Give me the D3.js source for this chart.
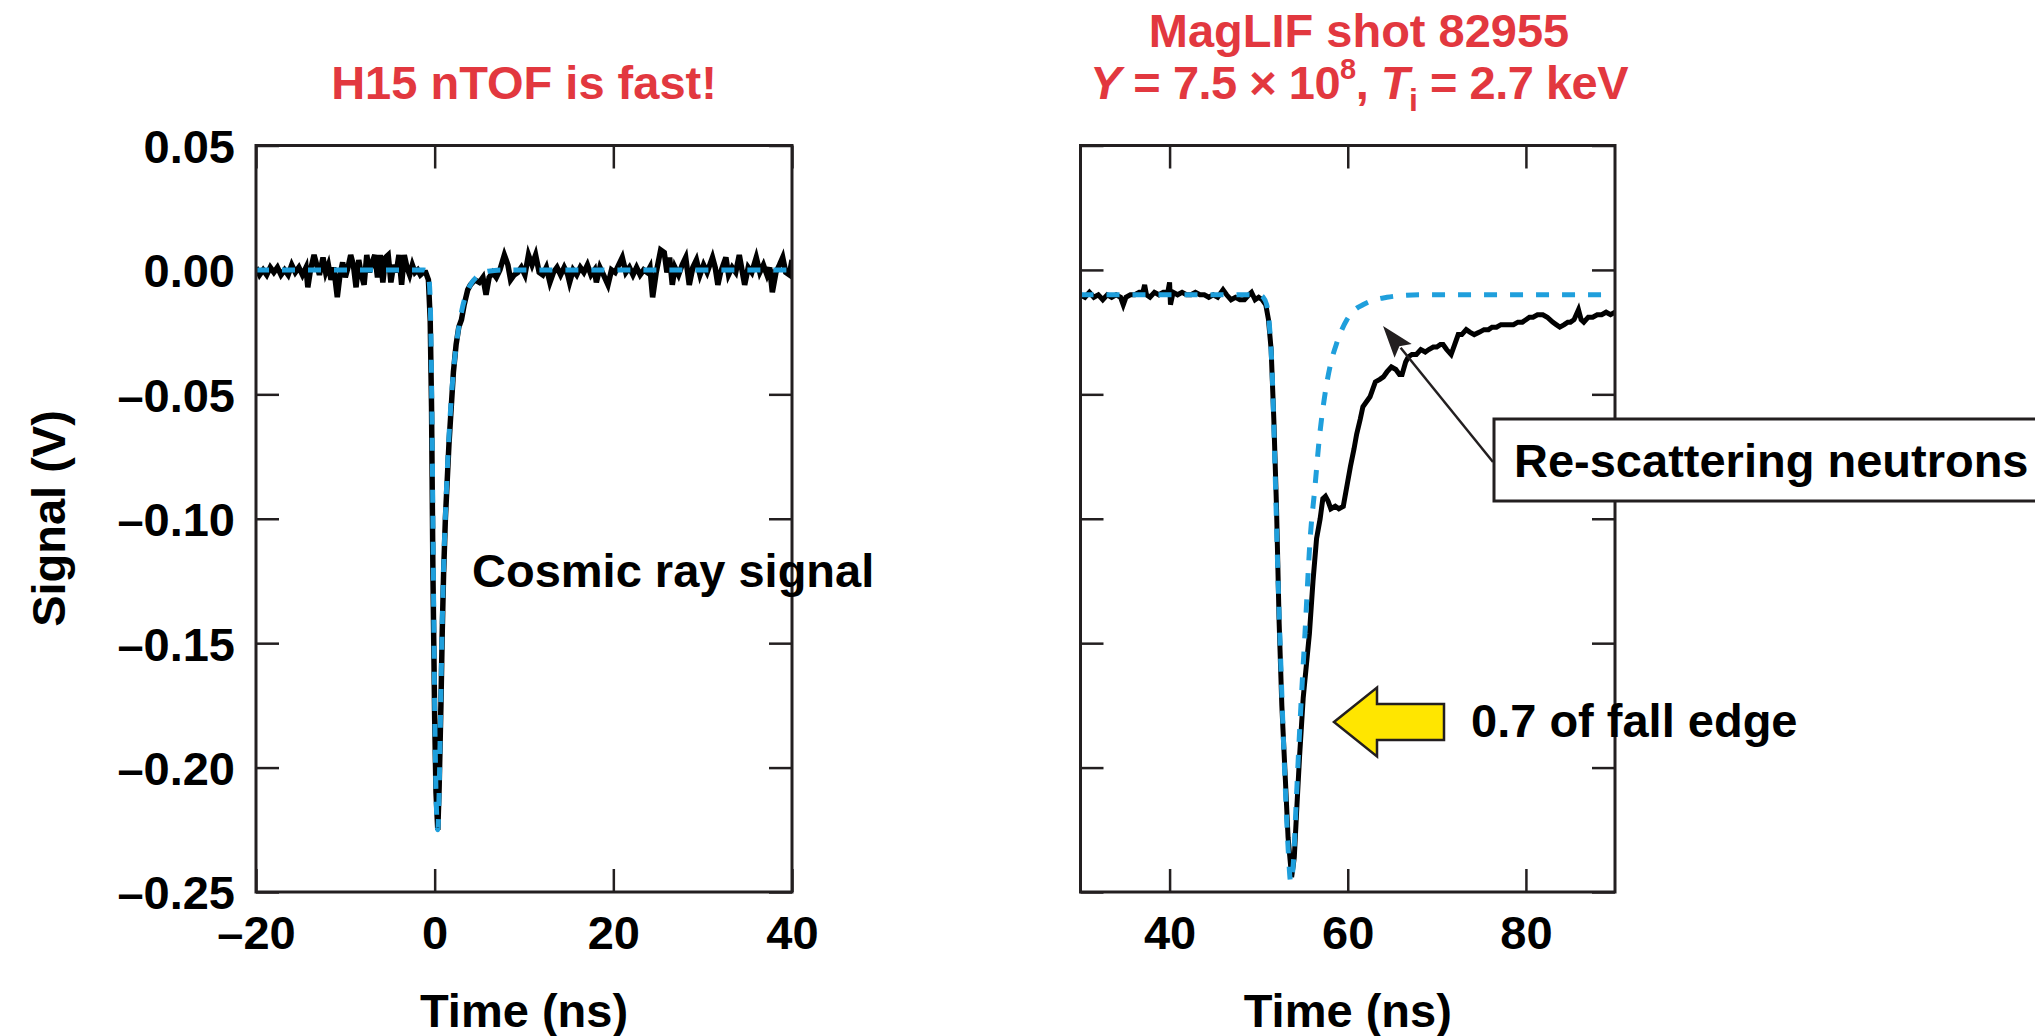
<!DOCTYPE html>
<html><head><meta charset="utf-8">
<script src="https://cdn.jsdelivr.net/npm/d3@7"></script>
<style>
html,body{margin:0;padding:0;background:#fff;}
svg{display:block;}
text{font-family:"Liberation Sans",Arial,Helvetica,sans-serif;font-weight:bold;}
</style></head><body>
<svg id="chart" width="2035" height="1036"></svg>
<script>
// ---------------- data ----------------
const yTicks = [0.05, 0, -0.05, -0.10, -0.15, -0.20, -0.25];
const leftXTicks = [-20, 0, 20, 40];
const rightXTicks = [40, 60, 80];
const leftDomain = [-20, 40];
const rightDomain = [30, 90];
const yDomain = [-0.25, 0.05];

// Left: cosmic-ray signal (time ns, signal V)
const leftSignal = [
[-20.0,0.001],[-19.6,-0.002],[-19.2,0.000],[-18.8,-0.002],[-18.4,0.001],[-18.0,-0.001],[-17.6,0.001],[-17.2,-0.002],
[-16.8,0.000],[-16.4,-0.002],[-16.0,0.002],[-15.6,-0.001],[-15.2,0.001],[-14.8,-0.002],[-14.4,0.001],[-14.2,-0.007],
[-13.9,0.000],[-13.5,0.006],[-13.2,0.002],[-12.9,-0.002],[-12.5,0.005],[-12.2,-0.001],[-11.9,0.002],[-11.6,-0.004],
[-11.3,0.001],[-10.9,-0.011],[-10.6,-0.002],[-10.3,0.003],[-10.0,-0.003],[-9.7,0.001],[-9.4,0.006],[-9.1,0.002],
[-8.8,-0.007],[-8.5,0.004],[-8.2,-0.002],[-7.9,-0.006],[-7.6,0.006],[-7.3,-0.001],[-7.0,0.003],[-6.7,0.006],
[-6.4,-0.003],[-6.1,0.006],[-5.8,-0.005],[-5.5,0.005],[-5.2,0.006],[-4.9,-0.005],[-4.6,0.002],[-4.3,-0.001],
[-4.0,0.006],[-3.7,-0.006],[-3.4,0.006],[-3.1,0.001],[-2.8,-0.002],[-2.5,0.002],[-2.2,-0.001],[-1.9,0.000],
[-1.6,-0.002],[-1.3,-0.001],[-1.0,-0.001],[-0.7,-0.004],
[-0.5,-0.020],[-0.35,-0.055],[-0.2,-0.120],[0.0,-0.180],[0.15,-0.210],[0.35,-0.225],[0.5,-0.208],[0.7,-0.175],
[0.85,-0.145],[1.0,-0.122],[1.2,-0.100],[1.6,-0.070],[2.1,-0.041],[2.4,-0.030],[2.7,-0.023],[3.0,-0.020],
[3.3,-0.014],[3.7,-0.008],[4.0,-0.006],[4.5,-0.004],[5.0,-0.005],[5.4,-0.003],[5.75,-0.010],[6.1,-0.003],
[6.5,-0.001],[6.9,-0.003],[7.3,0.000],[7.8,0.006],[8.2,0.002],[8.5,-0.004],[8.9,-0.002],[9.3,-0.001],
[9.7,0.001],[10.1,-0.002],[10.5,0.006],[10.9,0.002],[11.3,0.006],[11.7,-0.001],[12.1,-0.002],[12.5,0.001],
[12.9,-0.005],[13.3,-0.001],[13.7,0.001],[14.1,-0.002],[14.5,0.001],[14.9,-0.002],[15.1,-0.005],[15.5,0.000],
[15.9,-0.002],[16.3,0.001],[16.7,-0.001],[17.1,0.002],[17.5,-0.002],[17.9,0.000],[18.1,-0.005],[18.5,0.001],
[18.9,-0.002],[19.4,-0.006],[19.8,0.000],[20.2,-0.001],[20.6,0.002],[21.0,0.005],[21.4,-0.001],[21.8,0.001],
[22.2,-0.002],[22.6,0.001],[23.0,-0.002],[23.4,0.000],[23.8,-0.001],[24.1,0.001],[24.4,-0.011],[24.8,-0.001],
[25.3,0.008],[25.7,0.007],[26.0,-0.001],[26.3,0.005],[26.6,-0.006],[26.9,0.001],[27.3,-0.002],[27.7,0.002],
[28.1,0.005],[28.5,-0.006],[28.9,0.001],[29.3,0.004],[29.7,-0.002],[30.1,0.002],[30.5,-0.001],[30.8,0.002],
[31.1,0.005],[31.4,0.001],[31.7,-0.006],[32.0,-0.001],[32.3,0.002],[32.6,0.005],[32.9,-0.002],[33.3,0.001],
[33.7,-0.001],[34.1,0.006],[34.4,0.000],[34.7,-0.006],[35.1,0.001],[35.5,-0.001],[36.0,0.005],[36.4,-0.001],
[36.8,0.002],[37.2,-0.002],[37.5,0.001],[37.8,-0.009],[38.2,-0.001],[38.6,0.002],[38.96,0.005],[39.3,-0.001],
[39.7,-0.002],[40.0,0.004]
];
// Left: fit (blue dashed)
const leftFit = [
[-20,0],[-1.2,0],[-0.8,-0.001],[-0.6,-0.005],[-0.45,-0.02],[-0.3,-0.06],[-0.15,-0.12],[0.0,-0.175],
[0.15,-0.21],[0.35,-0.225],[0.5,-0.21],[0.65,-0.18],[0.8,-0.15],[1.0,-0.12],[1.3,-0.09],[1.6,-0.067],
[2.0,-0.045],[2.5,-0.028],[3.0,-0.017],[3.5,-0.010],[4.0,-0.006],[5.0,-0.002],[6.0,-0.0005],[8.0,0],[40,0]
];
// Right: MagLIF shot signal
const rightSignal = [
[30.0,-0.010],[30.5,-0.011],[31.0,-0.009],[31.5,-0.011],[32.0,-0.010],[32.5,-0.012],[33.0,-0.010],[33.5,-0.011],
[34.0,-0.010],[34.5,-0.011],[34.8,-0.014],[35.1,-0.011],[35.6,-0.010],[36.1,-0.010],[36.6,-0.009],[37.0,-0.009],
[37.2,-0.006],[37.4,-0.010],[37.8,-0.011],[38.3,-0.009],[38.8,-0.010],[39.3,-0.009],[39.8,-0.009],[40.0,-0.005],
[40.1,-0.014],[40.4,-0.009],[40.9,-0.010],[41.4,-0.009],[41.9,-0.010],[42.4,-0.010],[42.9,-0.009],[43.4,-0.010],
[43.9,-0.010],[44.4,-0.011],[44.9,-0.010],[45.4,-0.011],[46.0,-0.008],[46.4,-0.010],[46.9,-0.012],[47.4,-0.011],
[47.9,-0.012],[48.4,-0.012],[48.9,-0.010],[49.2,-0.009],[49.6,-0.012],[50.0,-0.011],[50.4,-0.012],
[50.8,-0.014],[51.1,-0.020],[51.4,-0.032],[51.7,-0.060],[52.0,-0.095],[52.3,-0.142],[52.6,-0.175],[53.0,-0.205],
[53.3,-0.228],[53.7,-0.244],[54.0,-0.236],[54.3,-0.215],[54.6,-0.195],[55.0,-0.172],[55.7,-0.146],[56.1,-0.125],
[56.5,-0.108],[56.9,-0.100],[57.2,-0.092],[57.5,-0.091],[57.8,-0.093],[58.1,-0.096],[58.6,-0.095],[59.0,-0.096],
[59.5,-0.095],[60.0,-0.085],[60.3,-0.079],[60.7,-0.072],[61.0,-0.066],[61.4,-0.060],[61.7,-0.055],[62.1,-0.053],
[62.5,-0.051],[62.8,-0.048],[63.1,-0.045],[63.6,-0.044],[64.0,-0.043],[64.4,-0.041],[64.9,-0.039],[65.4,-0.040],
[65.8,-0.042],[66.1,-0.042],[66.5,-0.037],[66.8,-0.035],[67.2,-0.034],[67.7,-0.034],[68.2,-0.032],[68.7,-0.033],
[69.1,-0.032],[69.6,-0.031],[70.0,-0.031],[70.4,-0.030],[70.7,-0.030],[71.1,-0.032],[71.6,-0.034],[72.0,-0.030],
[72.4,-0.026],[72.8,-0.026],[73.3,-0.024],[73.7,-0.025],[74.2,-0.026],[74.8,-0.025],[75.3,-0.024],[75.8,-0.024],
[76.2,-0.023],[76.7,-0.023],[77.2,-0.022],[77.7,-0.022],[78.2,-0.022],[78.6,-0.022],[79.1,-0.021],[79.6,-0.021],
[80.0,-0.020],[80.4,-0.019],[80.8,-0.019],[81.3,-0.018],[81.9,-0.018],[82.4,-0.019],[83.0,-0.021],[83.4,-0.022],
[83.8,-0.023],[84.3,-0.022],[84.7,-0.021],[85.0,-0.021],[85.4,-0.020],[85.9,-0.016],[86.2,-0.020],[86.5,-0.021],
[87.0,-0.019],[87.5,-0.019],[88.0,-0.018],[88.5,-0.018],[89.0,-0.017],[89.5,-0.018],[90.0,-0.017]
];
// Right: fit (blue dashed)
const rightFit = [
[30,-0.010],[50.0,-0.010],[50.5,-0.011],[50.9,-0.014],[51.2,-0.022],[51.5,-0.040],[51.8,-0.075],[52.1,-0.115],
[52.5,-0.160],[52.9,-0.200],[53.3,-0.232],[53.6,-0.246],[53.9,-0.238],[54.2,-0.215],[54.6,-0.185],[55.2,-0.146],
[55.8,-0.107],[56.3,-0.088],[56.8,-0.068],[57.4,-0.051],[58.0,-0.039],[58.8,-0.029],[59.9,-0.020],[60.8,-0.016],
[61.7,-0.014],[63.0,-0.012],[64.4,-0.011],[66.0,-0.0103],[68,-0.010],[90,-0.010]
];

// ---------------- layout ----------------
const svg = d3.select("#chart");
const FRAME = "#231f20", BLUE = "#1f9fdc", RED = "#e2383f";
const yTop = 145.5, yBot = 892;
const fs = 47;
const y = d3.scaleLinear().domain(yDomain).range([yBot, yTop]);
const yFmt = v => d3.format(".2f")(Math.abs(v) < 1e-9 ? 0 : v).replace("−", "–").replace("-", "–");
const xFmt = v => d3.format("d")(v).replace("−", "–").replace("-", "–");

function panel(id, x0, x1, xDomain, xTicks, signal, fit, showYLabels, sigW) {
  const x = d3.scaleLinear().domain(xDomain).range([x0, x1]);
  const g = svg.append("g");
  g.append("clipPath").attr("id", "clip" + id).append("rect")
    .attr("x", x0).attr("y", yTop).attr("width", x1 - x0).attr("height", yBot - yTop);

  const styleAxis = a => {
    a.select(".domain").remove();
    a.selectAll(".tick line").attr("stroke", FRAME).attr("stroke-width", 2.5);
    a.selectAll("text").attr("fill", "#000").style("font-size", fs + "px")
      .style("font-family", '"Liberation Sans",Arial,Helvetica,sans-serif').style("font-weight", "bold");
  };
  const ab = g.append("g").attr("transform", `translate(0,${yBot})`)
    .call(d3.axisBottom(x).tickValues(xTicks).tickSize(-23).tickFormat(xFmt));
  styleAxis(ab);
  ab.selectAll("text").attr("dy", null).attr("y", 57);
  const at = g.append("g").attr("transform", `translate(0,${yTop})`)
    .call(d3.axisTop(x).tickValues(xTicks).tickSize(-23).tickFormat(""));
  styleAxis(at);
  const al = g.append("g").attr("transform", `translate(${x0},0)`)
    .call(d3.axisLeft(y).tickValues(yTicks).tickSize(-23).tickPadding(21).tickFormat(showYLabels ? yFmt : ""));
  styleAxis(al);
  al.selectAll("text").attr("dy", "0.36em");
  const ar = g.append("g").attr("transform", `translate(${x1},0)`)
    .call(d3.axisRight(y).tickValues(yTicks).tickSize(-23).tickFormat(""));
  styleAxis(ar);

  const lineS = d3.line().x(d => x(d[0])).y(d => y(d[1]));
  const lineF = d3.line().x(d => x(d[0])).y(d => y(d[1])).curve(d3.curveMonotoneX);
  const data = g.append("g").attr("clip-path", `url(#clip${id})`);
  data.append("path").datum(signal).attr("d", lineS)
    .attr("fill", "none").attr("stroke", "#000").attr("stroke-width", sigW).attr("stroke-linejoin", "miter");
  data.append("path").datum(fit).attr("d", lineF)
    .attr("fill", "none").attr("stroke", BLUE).attr("stroke-width", 5).attr("stroke-dasharray", "13,13");

  g.append("rect").attr("x", x0).attr("y", yTop).attr("width", x1 - x0).attr("height", yBot - yTop)
    .attr("fill", "none").attr("stroke", FRAME).attr("stroke-width", 3);

  g.append("text").attr("x", (x0 + x1) / 2).attr("y", 1027).attr("text-anchor", "middle")
    .style("font-size", fs + "px").text("Time (ns)");
  return x;
}

const xL = panel("L", 256, 792, leftDomain, leftXTicks, leftSignal, leftFit, true, 5.5);
const xR = panel("R", 1080.5, 1615, rightDomain, rightXTicks, rightSignal, rightFit, false, 5);

// y label
svg.append("text").attr("transform", "translate(65,518.5) rotate(-90)").attr("text-anchor", "middle")
  .style("font-size", fs + "px").text("Signal (V)");

// titles
svg.append("text").attr("x", 524).attr("y", 99).attr("text-anchor", "middle").attr("fill", RED)
  .style("font-size", fs + "px").text("H15 nTOF is fast!");
svg.append("text").attr("x", 1359).attr("y", 47).attr("text-anchor", "middle").attr("fill", RED)
  .style("font-size", fs + "px").text("MagLIF shot 82955");
const t2 = svg.append("text").attr("x", 1359).attr("y", 99).attr("text-anchor", "middle").attr("fill", RED)
  .style("font-size", fs + "px").style("letter-spacing", "-0.5px");
t2.append("tspan").style("font-style", "italic").text("Y");
t2.append("tspan").text(" = 7.5 \u00d7 10");
t2.append("tspan").attr("dy", -20).style("font-size", "29px").text("8");
t2.append("tspan").attr("dy", 20).text(", ");
t2.append("tspan").style("font-style", "italic").text("T");
t2.append("tspan").attr("dy", 12).style("font-size", "32px").text("i");
t2.append("tspan").attr("dy", -12).text(" = 2.7 keV");

// annotations
svg.append("text").attr("x", 472).attr("y", 587).style("font-size", fs + "px").text("Cosmic ray signal");

const tip = [xR(63.96), y(-0.0225)];
const tail = [1493, 462];
{
  const dx = tip[0] - tail[0], dy = tip[1] - tail[1];
  const L = Math.hypot(dx, dy), ux = dx / L, uy = dy / L;
  const hl = 32, hw = 11;
  const bx = tip[0] - ux * hl, by = tip[1] - uy * hl;
  svg.append("line").attr("x1", tail[0]).attr("y1", tail[1]).attr("x2", bx + ux * 4).attr("y2", by + uy * 4)
    .attr("stroke", FRAME).attr("stroke-width", 2.5);
  svg.append("path").attr("d", `M${tip[0]},${tip[1]}L${bx - uy * hw},${by + ux * hw}L${bx + ux * 6},${by + uy * 6}L${bx + uy * hw},${by - ux * hw}Z`)
    .attr("fill", FRAME);
}
svg.append("rect").attr("x", 1494).attr("y", 419).attr("width", 620).attr("height", 82)
  .attr("fill", "#fff").attr("stroke", FRAME).attr("stroke-width", 3);
svg.append("text").attr("x", 1514).attr("y", 477).style("font-size", fs + "px").text("Re-scattering neutrons");

{
  const tx = 1334, ty = 722, hb = 1377, hh = 34.5, sh = 18, ex = 1444;
  svg.append("path").attr("d", `M${tx},${ty}L${hb},${ty - hh}L${hb},${ty - sh}L${ex},${ty - sh}L${ex},${ty + sh}L${hb},${ty + sh}L${hb},${ty + hh}Z`)
    .attr("fill", "#ffe600").attr("stroke", FRAME).attr("stroke-width", 2.5).attr("stroke-linejoin", "miter");
}
svg.append("text").attr("x", 1471).attr("y", 737).style("font-size", fs + "px").text("0.7 of fall edge");
</script>
</body></html>
